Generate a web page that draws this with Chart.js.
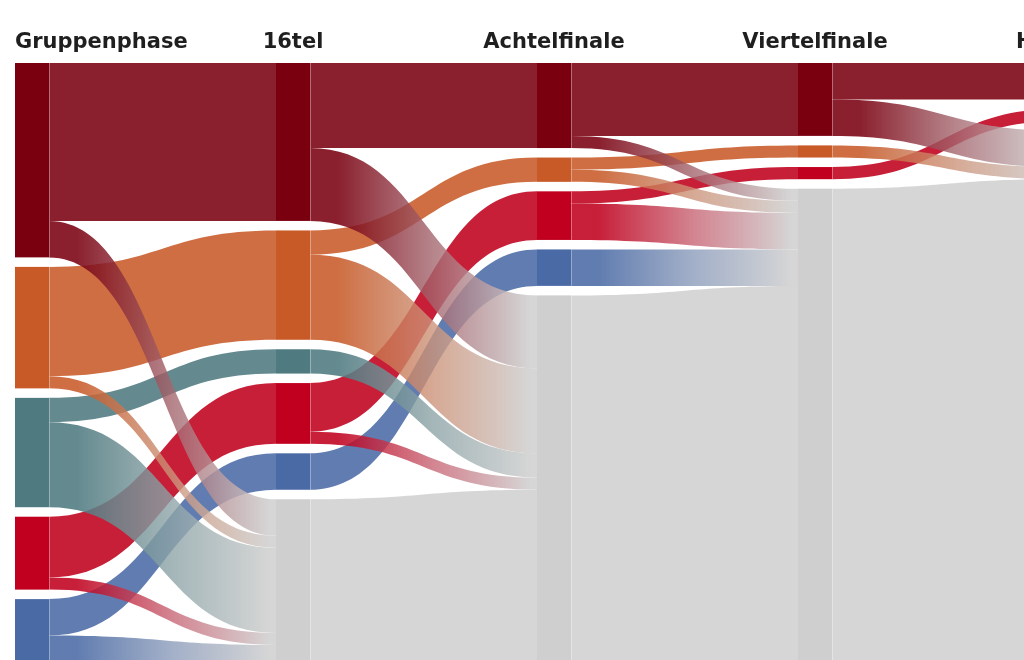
<!DOCTYPE html>
<html><head><meta charset="utf-8">
<script src="https://cdn.jsdelivr.net/npm/chart.js@4.4.1/dist/chart.umd.min.js"></script>
<style>html,body{margin:0;padding:0;background:#fff;overflow:hidden}#wrap{width:1024px;height:660px;position:relative}</style>
</head><body><div id="wrap"><canvas id="c"></canvas></div>
<script>
// ---- data ----
const stages = ["Gruppenphase", "16tel", "Achtelfinale", "Viertelfinale", "Halbfinale"];
const groups = ["Europa", "Afrika", "Asien", "Südamerika", "Nord-/Mittelamerika & Ozeanien"];
const groupColors = ["#7a0010", "#c85a28", "#4e7a80", "#c0001e", "#4a6aa5"];
// teams still in the tournament at each stage
const europa      = [16, 13, 7, 6, 3];
const afrika      = [10,  9, 2, 1, 0];
const asien       = [ 9,  2, 0, 0, 0];
const suedamerika = [ 6,  5, 4, 1, 1];
const nordamerika = [ 7,  3, 3, 0, 0];
const ausgeschieden = [0, 16, 32, 40, 44];
const eliminatedColor = "#cfcfcf";
const series = [europa, afrika, asien, suedamerika, nordamerika];

// ---- style ----
const NODE_W = 34, NODE_PAD = 9.5, FLOW_ALPHA = 0.88;
function rgbOf(hex){const n=parseInt(hex.slice(1),16);return [n>>16&255,n>>8&255,n&255];}
function rgba(hex, a){const c=rgbOf(hex);return `rgba(${c[0]},${c[1]},${c[2]},${a})`;}
const GREY = [208,208,208];
const flowGrey = `rgba(208,208,208,${FLOW_ALPHA})`;
function mix(hex, t, a){const c=rgbOf(hex);return `rgba(${c.map((v,i)=>Math.round(v*(1-t)+GREY[i]*t)).join(',')},${a})`;}

const sankeyPlugin = {
  id: 'sankey',
  afterDatasetsDraw(chart){
    const ctx = chart.ctx, xs = chart.scales.x, ys = chart.scales.y;
    const ppu = Math.abs(ys.getPixelForValue(1) - ys.getPixelForValue(0));
    const pad = NODE_PAD / ppu;
    const all = series.concat([ausgeschieden]);
    const colors = groupColors.concat([eliminatedColor]);
    const G = all.length - 1;
    // nodes
    const nodes = stages.map((st, s) => {
      let y = 0; const arr = [];
      all.forEach((ser, g) => {
        const v = ser[s];
        if (v > 0) { arr[g] = {y0: y, y1: y + v, outOff: y, inOff: y}; y += v + pad; }
      });
      return arr;
    });
    // links
    const straight = [], outs = [], greys = [];
    for (let s = 0; s < stages.length - 1; s++) {
      all.forEach((ser, g) => {
        const src = nodes[s][g]; if (!src) return;
        if (g < G) {
          const adv = series[g][s + 1], out = ser[s] - adv;
          if (adv > 0) {
            const t = nodes[s + 1][g];
            straight.push({s, g, a0: src.outOff, a1: src.outOff + adv, b0: t.inOff, b1: t.inOff + adv});
            src.outOff += adv; t.inOff += adv;
          }
          if (out > 0) {
            const t = nodes[s + 1][G];
            outs.push({s, g, a0: src.outOff, a1: src.outOff + out, b0: t.inOff, b1: t.inOff + out});
            src.outOff += out; t.inOff += out;
          }
        } else {
          const v = ser[s]; const t = nodes[s + 1][G];
          greys.push({s, g, a0: src.outOff, a1: src.outOff + v, b0: t.inOff, b1: t.inOff + v});
          src.outOff += v; t.inOff += v;
        }
      });
    }
    const px = s => xs.getPixelForValue(s);
    const py = v => ys.getPixelForValue(v);
    function band(l, fill){
      const x0 = px(l.s) + NODE_W, x1 = px(l.s + 1), xm = (x0 + x1) / 2;
      const a0 = py(l.a0), a1 = py(l.a1), b0 = py(l.b0), b1 = py(l.b1);
      ctx.beginPath();
      ctx.moveTo(x0, a0);
      ctx.bezierCurveTo(xm, a0, xm, b0, x1, b0);
      ctx.lineTo(x1, b1);
      ctx.bezierCurveTo(xm, b1, xm, a1, x0, a1);
      ctx.closePath();
      ctx.fillStyle = fill; ctx.fill();
    }
    ctx.save();
    greys.forEach(l => band(l, flowGrey));
    straight.forEach(l => band(l, rgba(groupColors[l.g], FLOW_ALPHA)));
    outs.forEach(l => {
      const x0 = px(l.s) + NODE_W, x1 = px(l.s + 1);
      const c = groupColors[l.g];
      const gr = ctx.createLinearGradient(x0, 0, x1, 0);
      gr.addColorStop(0, rgba(c, FLOW_ALPHA));
      gr.addColorStop(0.12, rgba(c, FLOW_ALPHA));
      gr.addColorStop(0.55, mix(c, 0.5, 0.8));
      gr.addColorStop(0.97, flowGrey);
      gr.addColorStop(1, flowGrey);
      band(l, gr);
    });
    // node rects
    nodes.forEach((arr, s) => {
      arr.forEach((n, g) => {
        if (!n) return;
        const x = px(s), y0 = py(n.y0), y1 = py(n.y1);
        ctx.fillStyle = colors[g];
        ctx.fillRect(x, y0, NODE_W, y1 - y0);
        ctx.fillStyle = 'rgba(255,255,255,0.35)';
        ctx.fillRect(x + NODE_W, y0, 1, y1 - y0);
      });
    });
    // headers
    ctx.font = "bold 21px 'DejaVu Sans'";
    ctx.fillStyle = '#1f1f1f';
    ctx.textBaseline = 'alphabetic';
    stages.forEach((st, s) => {
      if (s === 0) { ctx.textAlign = 'left'; ctx.fillText(st, px(s), 48); }
      else { ctx.textAlign = 'center'; ctx.fillText(st, px(s) + NODE_W / 2, 48); }
    });
    ctx.restore();
  }
};

new Chart(document.getElementById('c'), {
  type: 'scatter',
  data: {datasets: [{data: []}]},
  options: {
    responsive: true, maintainAspectRatio: false, animation: false, events: [],
    layout: {padding: {left: 15, top: 63, right: 0, bottom: 0}},
    plugins: {legend: {display: false}, tooltip: {enabled: false}},
    scales: {
      x: {type: 'linear', min: 0, max: 3.8659, display: false},
      y: {type: 'linear', min: 0, max: 49.14, reverse: true, display: false}
    }
  },
  plugins: [sankeyPlugin]
});
</script></body></html>
